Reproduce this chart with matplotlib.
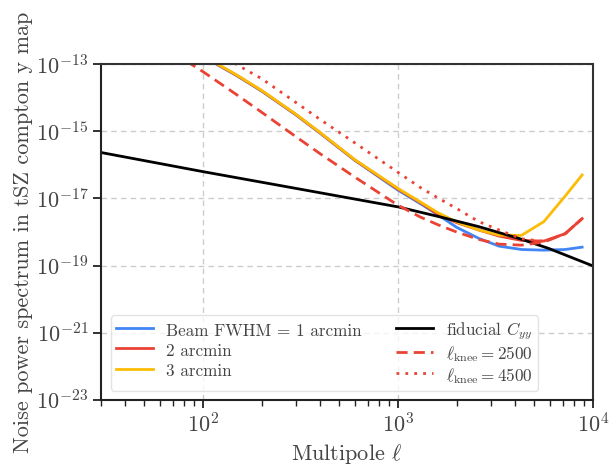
import numpy as np
import matplotlib
matplotlib.use("Agg")
import matplotlib.pyplot as plt
from matplotlib.ticker import NullLocator

plt.rcParams['font.family'] = 'serif'
plt.rcParams['font.serif'] = ['cmr10', 'DejaVu Serif']
plt.rcParams['mathtext.fontset'] = 'cm'
plt.rcParams['axes.formatter.use_mathtext'] = True
plt.rcParams['axes.unicode_minus'] = True

# multipoles for noise curves
ell = [30, 60, 100, 150, 200, 300, 400, 600, 1000, 1300, 1600, 2000, 2600, 3300, 4300, 5600, 7200, 8800]
# log10 of noise power spectra
beam1 = [-10.92, -12.02, -12.77, -13.35, -13.80, -14.51, -15.06, -15.86, -16.75, -17.15, -17.48, -17.86, -18.19, -18.42, -18.52, -18.54, -18.52, -18.45]
beam2 = [-10.91, -12.01, -12.76, -13.34, -13.79, -14.50, -15.05, -15.85, -16.72, -17.12, -17.47, -17.72, -17.94, -18.12, -18.25, -18.27, -18.05, -17.60]
beam3 = [-10.90, -12.00, -12.75, -13.33, -13.78, -14.49, -15.04, -15.84, -16.70, -17.10, -17.42, -17.70, -17.94, -18.09, -18.10, -17.69, -16.93, -16.30]
knee2500 = [-11.00, -12.40, -13.22, -13.92, -14.43, -15.16, -15.67, -16.36, -17.20, -17.55, -17.78, -18.00, -18.22, -18.36, -18.39, -18.30, -18.05, -17.60]
knee4500 = [-10.50, -11.70, -12.40, -13.02, -13.43, -14.14, -14.65, -15.34, -16.22, -16.67, -16.98, -17.30, -17.69, -17.94, -18.20, -18.28, -18.05, -17.60]

# fiducial tSZ power spectrum
ell_fid = [30, 100, 300, 1000, 1620, 2600, 4170, 5940, 10000]
cyy_fid = [-15.63, -16.20, -16.70, -17.25, -17.54, -17.84, -18.19, -18.49, -19.01]

labels_beam = ['Beam FWHM = 1 arcmin', '2 arcmin', '3 arcmin']
label_fid = r'fiducial $C_{yy}$'
labels_knee = [r'$\ell_{\rm knee} = 2500$', r'$\ell_{\rm knee} = 4500$']
yticks = [1e-23, 1e-21, 1e-19, 1e-17, 1e-15, 1e-13]

blue = '#4285F4'
red = '#EA4335'
yellow = '#FBBC05'

fig = plt.figure(figsize=(6.11, 4.65), dpi=100)
ax = fig.add_axes([0.165, 0.14, 0.8055, 0.722])

p = lambda v: np.power(10.0, v)
lw = 2.0
h1, = ax.plot(ell, p(beam1), color=blue, lw=lw, label=labels_beam[0])
h2, = ax.plot(ell, p(beam2), color=red, lw=lw, label=labels_beam[1])
h3, = ax.plot(ell, p(beam3), color=yellow, lw=lw, label=labels_beam[2])
h4, = ax.plot(ell_fid, p(cyy_fid), color='black', lw=lw, label=label_fid)
h5, = ax.plot(ell, p(knee2500), color=red, lw=lw, ls=(0, (4, 2.2)), label=labels_knee[0])
h6, = ax.plot(ell, p(knee4500), color=red, lw=lw, ls=(0, (1, 2.2)), label=labels_knee[1])

ax.set_xscale('log')
ax.set_yscale('log')
ax.set_xlim(30, 1e4)
ax.set_ylim(1e-23, 1e-13)
ax.set_yticks(yticks)
ax.yaxis.set_minor_locator(NullLocator())

ax.grid(True, which='major', ls=(0, (4, 3)), color='#cccccc', lw=1.0)
ax.set_axisbelow(True)

for s in ['left', 'bottom']:
    ax.spines[s].set_color('#222222')
    ax.spines[s].set_linewidth(1.5)
for s in ['top', 'right']:
    ax.spines[s].set_color('#333333')
    ax.spines[s].set_linewidth(1.5)

ax.tick_params(axis='both', which='major', labelsize=16, length=6, width=1.3,
               colors='#222222', labelcolor='#444444', direction='out', pad=3)
ax.tick_params(axis='x', which='minor', length=4, width=1.0, color='#222222')
ax.tick_params(axis='y', which='both', left=True, right=False)
ax.tick_params(axis='x', which='both', top=False)

ax.set_xlabel(r'Multipole $\ell$', fontsize=16, color='#444444', labelpad=4)
ax.set_ylabel('Noise power spectrum in tSZ compton y map', fontsize=16, color='#444444', labelpad=2)

leg = ax.legend(handles=[h1, h2, h3, h4, h5, h6], ncol=2, loc='lower left',
                bbox_to_anchor=(0.02, 0.027), borderaxespad=0.0, fontsize=12.3,
                frameon=True, handlelength=2.15, handletextpad=0.8, handleheight=1.3,
                columnspacing=2.0, labelspacing=0.1, borderpad=0.3, fancybox=True)
leg.get_frame().set_edgecolor('#dddddd')
leg.get_frame().set_linewidth(1.0)
for t in leg.get_texts():
    t.set_color('#444444')

fig.savefig('out.png', dpi=100)
